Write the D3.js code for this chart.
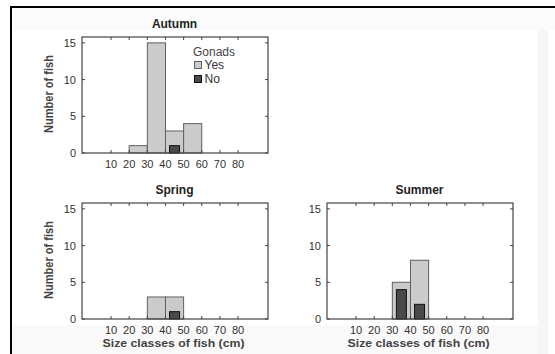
<!DOCTYPE html>
<html>
<head>
<meta charset="utf-8">
<script src="https://cdn.jsdelivr.net/npm/d3@7"></script>
<style>
  body { margin: 0; background: #fff; }
  text { font-family: Arial, "Liberation Sans", sans-serif; }
  .tick { font-size: 11px; fill: #333; }
  .legend { font-size: 12px; fill: #444; }
  .title { font-size: 12px; font-weight: bold; fill: #222; }
  .axTitle { font-size: 11.5px; font-weight: bold; fill: #444; }
</style>
</head>
<body>
<svg id="chart" width="555" height="354"></svg>
<script>
// size classes (lower edge, cm) and counts per season
const classes = [10, 20, 30, 40, 50, 60, 70, 80]
const xTicks = [10, 20, 30, 40, 50, 60, 70, 80]
const yTicks = [0, 5, 10, 15]

const autumnYes = [0, 1, 15, 3, 4, 0, 0, 0]
const autumnNo  = [0, 0, 0, 1, 0, 0, 0, 0]
const springYes = [0, 0, 3, 3, 0, 0, 0, 0]
const springNo  = [0, 0, 0, 1, 0, 0, 0, 0]
const summerYes = [0, 0, 5, 8, 0, 0, 0, 0]
const summerNo  = [0, 0, 4, 2, 0, 0, 0, 0]

const svg = d3.select("#chart")

// faint scan background + frame lines
svg.append("rect").attr("x", 12).attr("y", 8).attr("width", 543).attr("height", 22).attr("fill", "#fbfbfb")
svg.append("rect").attr("x", 538).attr("y", 30).attr("width", 10).attr("height", 324).attr("fill", "#f6f6f6")
svg.append("rect").attr("x", 12).attr("y", 325).attr("width", 526).attr("height", 29).attr("fill", "#f9f9f9")
svg.append("rect").attr("x", 10).attr("y", 6).attr("width", 545).attr("height", 2).attr("fill", "#000")
svg.append("rect").attr("x", 10).attr("y", 6).attr("width", 2).attr("height", 348).attr("fill", "#000")

const toBins = vals => classes.map((c, i) => ({c: c, v: vals[i]})).filter(d => d.v > 0)

const drawPanel = (ox, oy, title, yes, no, showY, showX) => {
  const w = 186, h = 116
  const g = svg.append("g").attr("transform", `translate(${ox},${oy})`)
  const x = d3.scaleLinear().domain([-6, 96.5]).range([0, w])
  const y = d3.scaleLinear().domain([0, 15.8]).range([h, 0])

  g.append("text").attr("class", "title")
    .attr("x", x(45)).attr("y", -9).attr("text-anchor", "middle").text(title)

  g.selectAll("rect.yes").data(toBins(yes))
    .join("rect").attr("class", "yes")
    .attr("x", d => x(d.c)).attr("width", d => x(d.c + 10) - x(d.c))
    .attr("y", d => y(d.v)).attr("height", d => y(0) - y(d.v))
    .attr("fill", "#cbcbcb").attr("stroke", "#606060").attr("stroke-width", 1)

  g.selectAll("rect.no").data(toBins(no))
    .join("rect").attr("class", "no")
    .attr("x", d => x(d.c + 2.25)).attr("width", d => x(d.c + 7.75) - x(d.c + 2.25))
    .attr("y", d => y(d.v)).attr("height", d => y(0) - y(d.v))
    .attr("fill", "#4a4a4a").attr("stroke", "#111").attr("stroke-width", 1)

  // frame
  g.append("rect").attr("x", 0).attr("y", 0).attr("width", w).attr("height", h)
    .attr("fill", "none").attr("stroke", "#444").attr("stroke-width", 1.2)

  // inner ticks on all four sides
  const tk = 3
  xTicks.forEach(v => {
    g.append("path").attr("d", d3.line()([[x(v), h], [x(v), h - tk]])).attr("stroke", "#444")
    g.append("path").attr("d", d3.line()([[x(v), 0], [x(v), tk]])).attr("stroke", "#444")
  })
  yTicks.forEach(v => {
    g.append("path").attr("d", d3.line()([[0, y(v)], [tk, y(v)]])).attr("stroke", "#444")
    g.append("path").attr("d", d3.line()([[w, y(v)], [w - tk, y(v)]])).attr("stroke", "#444")
  })

  g.selectAll("text.xl").data(xTicks).join("text").attr("class", "tick xl")
    .attr("x", d => x(d)).attr("y", h + 15).attr("text-anchor", "middle").text(d => d)
  g.selectAll("text.yl").data(yTicks).join("text").attr("class", "tick yl")
    .attr("x", -6).attr("y", d => y(d) + 4).attr("text-anchor", "end").text(d => d)

  if (showY) {
    g.append("text").attr("class", "axTitle")
      .attr("transform", `translate(-29,${h / 2 - 1}) rotate(-90)`)
      .attr("text-anchor", "middle").style("font-size", "12px")
      .attr("textLength", 78).attr("lengthAdjust", "spacingAndGlyphs")
      .text("Number of fish")
  }
  if (showX) {
    g.append("text").attr("class", "axTitle")
      .attr("x", x(45) - 1).attr("y", h + 28).attr("text-anchor", "middle")
      .attr("textLength", 142).attr("lengthAdjust", "spacingAndGlyphs")
      .text("Size classes of fish (cm)")
  }
  return g
}

const ga = drawPanel(82, 37, "Autumn", autumnYes, autumnNo, true, false)
drawPanel(82, 203, "Spring", springYes, springNo, true, true)
drawPanel(327, 203, "Summer", summerYes, summerNo, false, true)

// legend in the autumn panel
const lg = ga.append("g").attr("transform", "translate(111,0)")
lg.append("text").attr("class", "legend").attr("x", 0).attr("y", 19).text("Gonads")
const legendItems = ["Yes", "No"]
const legendFill = ["#cbcbcb", "#4a4a4a"]
const legendStroke = ["#606060", "#111"]
legendItems.forEach((d, i) => {
  lg.append("rect").attr("x", 1.5).attr("y", 24.5 + i * 14).attr("width", 7).attr("height", 7)
    .attr("fill", legendFill[i]).attr("stroke", legendStroke[i])
  lg.append("text").attr("class", "legend").attr("x", 11.5).attr("y", 32 + i * 14).style("fill", "#333").text(d)
})
</script>
</body>
</html>
